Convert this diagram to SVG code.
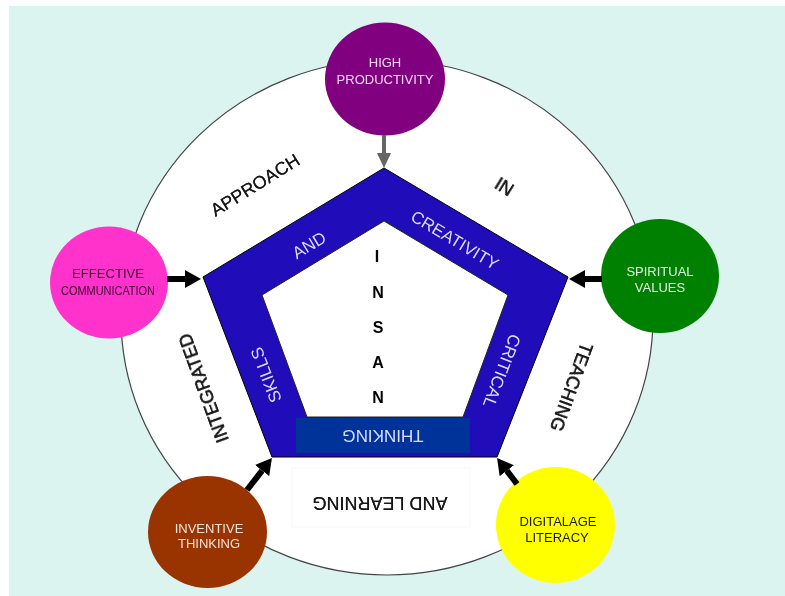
<svg xmlns="http://www.w3.org/2000/svg" width="785" height="596" viewBox="0 0 785 596">
<style>
.ring{font-family:"Liberation Sans",Arial,sans-serif;font-size:18px;fill:#151515;text-anchor:middle}
.band{font-family:"Liberation Sans",Arial,sans-serif;font-size:17px;fill:#dcdcff;text-anchor:middle}
.insan{font-family:"Liberation Sans",Arial,sans-serif;font-size:16px;font-weight:bold;fill:#000;text-anchor:middle}
.lbl{font-family:"Liberation Sans",Arial,sans-serif;font-size:13px;text-anchor:middle}
.arr{stroke:#000;stroke-width:6;fill:none}
</style>
<defs>
<filter id="soft" x="-10%" y="-30%" width="120%" height="160%">
<feGaussianBlur in="SourceGraphic" stdDeviation="0.7" result="b"/>
<feMerge><feMergeNode in="b"/><feMergeNode in="SourceGraphic"/></feMerge>
</filter>
<marker id="hb" markerUnits="userSpaceOnUse" markerWidth="16" markerHeight="18" viewBox="0 0 16 18" refX="0" refY="9" orient="auto">
<path d="M0,0 L16,9 L0,18 z" fill="#000"/>
</marker>
<marker id="hg" markerUnits="userSpaceOnUse" markerWidth="15" markerHeight="14" viewBox="0 0 15 14" refX="0" refY="7" orient="auto">
<path d="M0,0 L15,7 L0,14 z" fill="#666"/>
</marker>
</defs>
<rect x="9" y="6" width="776" height="590" fill="#dbf4f0"/>
<g id="outer-ring">
<ellipse cx="387" cy="317.5" rx="266" ry="257.5" fill="#fff" stroke="#444" stroke-width="1.2"/>
<rect x="292" y="468" width="178" height="59" fill="#fff" stroke="#f8f8f8" stroke-width="1"/>
<g filter="url(#soft)">
<text class="ring" transform="translate(255,185) rotate(-32)" y="6.3">APPROACH</text>
<text class="ring" transform="translate(504,187) rotate(32)" y="6.3">IN</text>
<text class="ring" transform="translate(571,387) rotate(110)" y="6.3">TEACHING</text>
<text class="ring" transform="translate(380,503) rotate(180)" y="6.3" font-size="19">AND LEARNING</text>
<text class="ring" transform="translate(204,388) rotate(-110)" y="6.3">INTEGRATED</text>
</g>
</g>
<g id="pentagon">
<polygon points="384,168 568,277 497,457 272,457 203,277" fill="#200cb8" stroke="#000" stroke-width="1"/>
<polygon points="384,221 508,295 463,417 307,417 262,295" fill="#fff" stroke="#222" stroke-width="1"/>
<rect x="296" y="418" width="174" height="35" fill="#003399"/>
<text class="band" transform="translate(309,245) rotate(-31)" y="6">AND</text>
<text class="band" transform="translate(455,240) rotate(31)" y="6">CREATIVITY</text>
<text class="band" transform="translate(502,371) rotate(111)" y="6">CRITICAL</text>
<text class="band" transform="translate(383,436) rotate(180)" y="6">THINKING</text>
<text class="band" transform="translate(266,375) rotate(-111)" y="6">SKILLS</text>
<text class="insan" x="377" y="262">I</text>
<text class="insan" x="378" y="298">N</text>
<text class="insan" x="378" y="333">S</text>
<text class="insan" x="378" y="368">A</text>
<text class="insan" x="378" y="403">N</text>
</g>
<g id="high-productivity">
<ellipse cx="385" cy="79" rx="60" ry="56.5" fill="#800080"/>
<text class="lbl" x="385" y="67" fill="#f5d8f5">HIGH</text>
<text class="lbl" x="385" y="84" fill="#f5d8f5">PRODUCTIVITY</text>
</g>
<g id="effective-communication">
<ellipse cx="109" cy="282.5" rx="59" ry="56" fill="#ff33cc"/>
<text class="lbl" x="108" y="278" fill="#3a0a30" textLength="72" lengthAdjust="spacingAndGlyphs">EFFECTIVE</text>
<text class="lbl" x="108" y="295" fill="#3a0a30" font-size="14" textLength="94" lengthAdjust="spacingAndGlyphs">COMMUNICATION</text>
</g>
<g id="spiritual-values">
<ellipse cx="660" cy="276" rx="59" ry="57" fill="#008000"/>
<text class="lbl" x="660" y="276" fill="#e2f2e2">SPIRITUAL</text>
<text class="lbl" x="660" y="292" fill="#e2f2e2">VALUES</text>
</g>
<g id="inventive-thinking">
<ellipse cx="207.5" cy="532" rx="59.5" ry="56" fill="#993300"/>
<text class="lbl" x="209" y="533" fill="#f5e2d8">INVENTIVE</text>
<text class="lbl" x="209" y="548" fill="#f5e2d8">THINKING</text>
</g>
<g id="digital-age-literacy">
<ellipse cx="555.5" cy="525" rx="59.5" ry="58" fill="#ffff00"/>
<text class="lbl" x="558" y="526" fill="#1a1a1a">DIGITALAGE</text>
<text class="lbl" x="557" y="542" fill="#1a1a1a">LITERACY</text>
</g>
<g id="connectors">
<path d="M384,135 L384,153" stroke="#666" stroke-width="4" fill="none" marker-end="url(#hg)"/>
<path class="arr" d="M167,279 L185,279" marker-end="url(#hb)"/>
<path class="arr" d="M602,279 L585,279" marker-end="url(#hb)"/>
<path class="arr" d="M247,490 L262.1,470.6" marker-end="url(#hb)"/>
<path class="arr" d="M517,484 L506.8,470.7" marker-end="url(#hb)"/>
</g>
</svg>
